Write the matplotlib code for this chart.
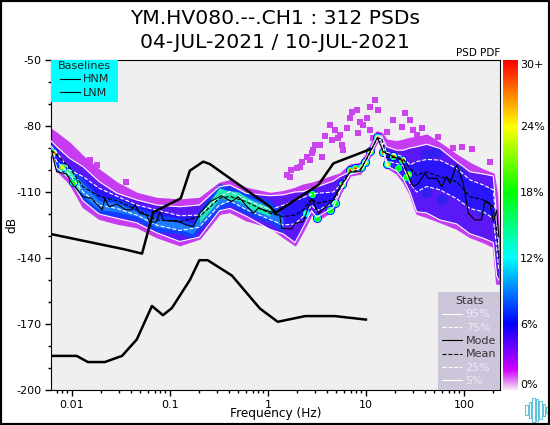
import matplotlib
matplotlib.use('Agg')
import numpy as np
import matplotlib.pyplot as plt
from matplotlib.colors import LinearSegmentedColormap
from matplotlib.patches import Rectangle
from matplotlib.ticker import FixedLocator, NullFormatter

plt.rcParams['axes.unicode_minus'] = False

# frequency grid the PDF envelopes were read on
freq = [0.0061, 0.007, 0.0095, 0.013, 0.019, 0.029, 0.046, 0.073, 0.126, 0.2, 0.32, 0.41, 0.6, 1.05,
        1.43, 1.89, 2.29, 2.79, 3.14, 4.65, 5.43, 6.87, 8.69, 10.2, 12.9, 14.4, 16.2, 20.6, 24, 28,
        32.9, 41.6, 56.9, 84, 115, 157, 199, 215, 226]
outer_hi = [-81.5, -83.3, -87.9, -93.9, -100, -106, -110.6, -112.9, -113.6, -112.9, -106, -104.8, -108.3, -110.6,
            -109.8, -108.3, -106.8, -106, -105.3, -102.7, -101.8, -97.7, -97, -92.4, -82.6, -83.3, -86.4, -87.1, -86.4, -85.6,
            -85.2, -84.1, -87.9, -93.2, -97, -100, -101.8, -110.6, -133.3]
outer_lo = [-90.9, -100, -106, -116.7, -122, -124.2, -125.8, -130.3, -134, -131, -119.7, -118.9, -122.7, -125.8,
            -130.3, -134, -127.3, -119.7, -122.7, -118.2, -110.6, -102.3, -101.5, -96.2, -87.1, -86.4, -98.5, -101.5, -105.3, -110.6,
            -119.7, -121.2, -123.5, -126.5, -130.3, -132.6, -134.8, -151.5, -151.5]
p95 = [-86.7, -89.4, -94.7, -98.5, -105.3, -110.6, -113.6, -115.9, -116.7, -115.9, -107.6, -106.8, -110.6, -111.7,
       -111.3, -110, -109.8, -108.5, -107.7, -105, -103, -100.8, -99.2, -94, -84.5, -84.5, -89.4, -91, -91, -90,
       -89.4, -88.3, -90.2, -96.2, -100.8, -101.8, -102.7, -121, -136]
p75 = [-89, -92, -100, -103, -108.3, -112, -115.9, -118.2, -120.8, -120.5, -112.1, -109.8, -113.6, -118,
       -116, -114, -112.5, -111, -110.6, -110, -107, -101, -99.5, -95, -85.5, -85, -92, -93, -94, -97.7,
       -96.2, -95.2, -95.5, -99.2, -104.5, -106.8, -109, -126, -138]
mean = [-91, -93, -99, -107.6, -112, -114, -118, -122.7, -123.5, -121.2, -112.9, -112, -114.4, -119.7,
        -121.2, -120.5, -118.2, -112.9, -115.2, -113.6, -107, -101, -99.8, -95, -86, -85.5, -94, -94.5, -95, -99.2,
        -102.3, -100.8, -103, -105.3, -112.1, -113.6, -116.7, -127, -140]
p25 = [-90, -96, -102, -110, -116, -117.5, -120.5, -125, -127.5, -126, -116, -114, -118, -122.5,
       -125, -124.5, -121, -116, -118.5, -115, -109, -102, -100.5, -95.8, -86.5, -85.8, -96, -97, -98, -106,
       -110, -107.5, -109, -113, -117.5, -119, -122, -135, -145]
p5 = [-90.4, -99, -104, -114, -120, -122, -124, -128.5, -132.5, -130.5, -118.5, -117.5, -121, -127,
      -129, -133, -126, -118.5, -121.5, -117, -110, -102, -101, -96, -87, -86.2, -98, -100.5, -104, -110,
      -119, -119.5, -122.7, -124.5, -129, -131, -133, -148, -150]

# brighter ridge of the PDF
ridge_freq = [0.0062, 0.007, 0.0095, 0.013, 0.019, 0.029, 0.046, 0.073, 0.126, 0.17, 0.2, 0.32, 0.41, 0.6, 1.05, 1.43]
ridge_hi = [-88, -96, -98, -104, -112, -113, -117, -120, -122, -124, -118, -106, -108, -110, -114, -120]
ridge_lo = [-92, -100, -104, -114, -120, -121, -123, -128, -129, -131, -127, -118, -116, -120, -124, -128]
green_l_freq = [0.0078, 0.0095, 0.012]
green_l_hi = [-97, -100, -105]
green_l_lo = [-100, -103, -110]
green_r_freq = [0.2, 0.25, 0.32, 0.36, 0.5, 0.7, 1.05]
green_r_hi = [-120, -115, -108, -109, -110, -114, -117]
green_r_lo = [-124, -119, -113, -113, -114, -118, -121]

mode_freq = [0.0062, 0.007, 0.0088, 0.0103, 0.013, 0.0159, 0.0204, 0.0217, 0.0239, 0.029, 0.0348, 0.0407, 0.044,
             0.0494, 0.0578, 0.0625, 0.0731, 0.0791, 0.0869, 0.117, 0.148, 0.173, 0.202, 0.256, 0.336, 0.426, 0.498,
             0.708, 0.796, 1.05, 1.32, 1.38, 1.75, 1.89, 2.29, 2.79, 3.27, 4.65, 5.65, 6.87, 8.69, 11, 13.1, 15, 19,
             23.1, 30.4, 34.2, 40, 43.2, 52.6, 59.2, 66.5, 72, 84.2, 98.4, 111, 129, 151, 164, 184, 199, 215, 226]
mode_db = [-90.9, -100.8, -101.8, -106.8, -112.1, -112.9, -118.2, -112.9, -116.7, -115.5, -117.9, -118.2, -115.9,
           -119.7, -120.5, -123.9, -123.5, -118.9, -123, -123, -125, -125.8, -119.7, -114.4, -111.7, -114.4, -112.1,
           -119.7, -117.4, -118.9, -120.5, -126.5, -126.8, -124.2, -123.5, -112.9, -119.7, -113.6, -106.8, -100.8, -100.8,
           -91.7, -85.2, -91.7, -93.9, -95.5, -107.6, -106.1, -101.5, -103.8, -103.8, -107.6, -103, -106.1, -97.7, -106.1,
           -119.7, -122.7, -122.7, -113.9, -115.2, -123.5, -118.2, -130.3]

hnm_freq = [0.0061, 0.0339, 0.052, 0.0676, 0.129, 0.16, 0.219, 0.256, 1.05, 1.2, 3.27, 4.65, 11]
hnm_db = [-129.1, -136, -138, -119.2, -112.9, -100.3, -96.2, -97.3, -116.7, -119.4, -106.8, -97, -90.6]
lnm_freq = [0.0061, 0.0112, 0.0146, 0.0217, 0.0325, 0.046, 0.0656, 0.085, 0.105, 0.16, 0.2, 0.243, 0.43, 0.83, 1.26, 2.4, 4.8, 10]
lnm_db = [-184.5, -184.5, -187.3, -187.3, -184.5, -177, -161.8, -166, -162.7, -150, -141, -141, -148, -163, -169, -166.4, -166.4, -168]

# isolated low probability cells above the main band
blob_freq = [1.55, 1.74, 1.96, 1.68, 2.21, 2.48, 2.79, 3.02, 3.39, 2.68, 3.53, 3.82, 4.29, 4.83, 5.43, 4.46, 6.35,
             7.14, 8.03, 6.87, 8.69, 10.2, 11, 12.4, 13.4, 9.39, 11, 11.9, 5.65, 5.87, 19, 25, 28.1, 23.1, 30.4, 37,
             32.9, 16.3, 54.7, 77.8, 94.6, 120, 184, 2.12, 2.9, 8.35, 5.22, 0.0361, 0.0153, 0.0179]
blob_db = [-102.3, -100, -99.2, -103, -96.2, -93.9, -92.4, -88.6, -88.6, -95.5, -93.9, -84.5, -79.5, -81.8, -84.1, -86.4, -81.1,
           -73.5, -72.7, -76.5, -78, -76.5, -71.2, -68.2, -72.7, -79.5, -81.8, -85.6, -88.6, -90.9, -77.3, -74.2, -77.3, -80.3, -81.8, -81.1,
           -84.1, -82.6, -84.8, -90.2, -89.4, -90.6, -96.2, -98.5, -90.9, -83.3, -85.6, -105.3, -95.5, -97.7]

# darker blue patches in the broad part above 30 Hz
patch_freq = [41, 52, 75, 108, 41, 60, 30, 90, 150]
patch_db = [-93, -92, -104, -110, -110, -113, -101, -100, -118]

# high probability spots, level is the peak percentage / 30
hot_freq = [0.00635, 0.00785, 0.0103, 2.79, 3.14, 4.29, 4.83, 2.42, 5.65, 6.87, 7.72, 8.82, 9.78, 11, 13.1, 15, 16.3, 18.7, 21, 23.1, 25.6, 27]
hot_db = [-91.7, -98.8, -105.3, -110.9, -122, -118.2, -114.8, -119.4, -106.5, -100, -99.2, -98.8, -96.2, -91.2, -85.2, -91.7, -97.3, -93.6, -99.2, -95.5, -103, -101.8]
hot_level = [1, 0.8, 0.6, 0.6, 0.6, 0.6, 0.6, 0.4, 1, 1, 1, 1, 0.8, 0.9, 1, 1, 0.8, 1, 0.6, 1, 0.6, 0.8]

xticks = [0.01, 0.1, 1, 10, 100]
xtick_labels = ['0.01', '0.1', '1', '10', '100']
yticks = [-50, -80, -110, -140, -170, -200]
cbar_labels = ['0%', '6%', '12%', '18%', '24%', '30+']
logo_x = [525, 528.5, 532, 535.5, 539, 542.5, 545.5]
logo_h = [0.012, 0.018, 0.028, 0.026, 0.022, 0.015, 0.008]

pdf_cmap = LinearSegmentedColormap.from_list('pdf', [(0, '#f4e6f6'), (0.03, '#e070f4'), (0.06, '#d000ff'),
                                                      (0.2, '#0000ff'), (0.4, '#00ffff'), (0.6, '#00ff00'),
                                                      (0.8, '#ffff00'), (1, '#ff0000')])

fig = plt.figure(figsize=(5.5, 4.25), dpi=100)
W, H = 550.0, 425.0
ax = fig.add_axes([51 / W, 1 - 390 / H, 449 / W, 330 / H])
ax.set_facecolor('#efefef')
ax.set_xscale('log')
ax.set_xlim(0.00613, 233)
ax.set_ylim(-200, -50)

# PDF body
ax.scatter(blob_freq, blob_db, s=20, color='#cc44ee', marker='s', linewidths=0, zorder=1)
ax.fill_between(freq, outer_lo, outer_hi, color='#c63cf0', lw=1.5, zorder=1)
ax.fill_between(freq, p5, p95, color='#5a18f6', lw=0, zorder=2)
ax.fill_between(freq, p25, p75, color='#2a14fb', lw=0, zorder=3)
ax.scatter(patch_freq, patch_db, s=70, color='#2222ee', linewidths=0, alpha=0.7, zorder=3)
ax.fill_between(ridge_freq, ridge_lo, ridge_hi, color='#1040ff', lw=0, zorder=4)
ax.fill_between(ridge_freq, np.array(ridge_lo) + 2, np.array(ridge_hi) - 2, color='#30d8ff', lw=0, zorder=4, alpha=0.4)
ax.fill_between(green_l_freq, green_l_lo, green_l_hi, color='#30f0a0', lw=0, zorder=5)
ax.fill_between(green_r_freq, green_r_lo, green_r_hi, color='#20e8b0', lw=0, zorder=5)

# hot spots, biggest (coolest) layer first
for frac, size in [(0.2, 42), (0.4, 28), (0.6, 17), (0.8, 9), (1.0, 3.5)]:
    pts = [(f, d) for f, d, lv in zip(hot_freq, hot_db, hot_level) if lv >= frac - 0.001]
    ax.scatter([p[0] for p in pts], [p[1] for p in pts], s=size, color=pdf_cmap(frac), linewidths=0, zorder=6 + frac)

# stats lines
ax.plot(freq, p95, color='white', lw=0.8, zorder=8)
ax.plot(freq, p5, color='white', lw=0.8, zorder=8)
ax.plot(freq, p75, color='white', lw=0.8, ls='--', zorder=8)
ax.plot(freq, p25, color='white', lw=0.8, ls='--', zorder=8)
ax.plot(mode_freq, mode_db, color='black', lw=0.8, zorder=9)
ax.plot(freq, mean, color='black', lw=0.8, ls='--', zorder=9)
ax.plot(hnm_freq, hnm_db, color='black', lw=1.8, zorder=10)
ax.plot(lnm_freq, lnm_db, color='black', lw=1.8, zorder=10)

ax.set_xticks(xticks)
ax.set_xticklabels(xtick_labels)
ax.set_yticks(yticks)
ax.yaxis.set_minor_locator(FixedLocator(np.arange(-200, -49, 10)))
ax.yaxis.set_minor_formatter(NullFormatter())
ax.xaxis.set_minor_formatter(NullFormatter())
ax.tick_params(labelsize=8, pad=3, length=4, width=1)
ax.tick_params(which='minor', length=2.5, width=1)
ax.set_xlabel('Frequency (Hz)', fontsize=8.7, va='center')
ax.set_ylabel('dB', fontsize=8.7, va='center')
ax.xaxis.set_label_coords(0.5, -24 / 330)
ax.yaxis.set_label_coords(-39 / 449, 0.5)

# legends
ax.add_patch(Rectangle((0, 1 - 42 / 330), 67 / 449, 42 / 330, transform=ax.transAxes, color='#00ffff', lw=0, zorder=19))
base_handles = [plt.Line2D([], [], color='black', lw=0.8), plt.Line2D([], [], color='black', lw=0.8)]
leg1 = ax.legend(base_handles, ['HNM', 'LNM'], title='Baselines', loc='upper center', bbox_to_anchor=(33.5 / 449, 1),
                 borderaxespad=0, fontsize=8, title_fontsize=8, frameon=False, handlelength=1.8,
                 labelspacing=0.3, borderpad=0.1, handletextpad=0.3, labelcolor='#222222')
leg1.get_title().set_color('#222222')
leg1.set_zorder(20)
ax.add_artist(leg1)
stat_handles = [plt.Line2D([], [], color='white', lw=0.8), plt.Line2D([], [], color='white', lw=0.8, ls='--'),
                plt.Line2D([], [], color='black', lw=0.8), plt.Line2D([], [], color='black', lw=0.8, ls='--'),
                plt.Line2D([], [], color='white', lw=0.8, ls='--'), plt.Line2D([], [], color='white', lw=0.8)]
leg2 = ax.legend(stat_handles, ['95%', '75%', 'Mode', 'Mean', '25%', '5%'], title='Stats', loc='lower right',
                 bbox_to_anchor=(1, 0), borderaxespad=0, fontsize=8, title_fontsize=8, fancybox=False, frameon=True,
                 facecolor='#cdc6da', edgecolor='none', framealpha=1, handlelength=1.8, labelspacing=0.3,
                 borderpad=0.35, handletextpad=0.3,
                 labelcolor=['#efe9f5', '#efe9f5', '#333333', '#333333', '#efe9f5', '#efe9f5'])
leg2.get_title().set_color('#333333')
leg2.set_zorder(20)

fig.text(275 / W, 1 - 18 / H, 'YM.HV080.--.CH1 : 312 PSDs', fontsize=14.6, ha='center', va='center')
fig.text(275 / W, 1 - 42 / H, '04-JUL-2021 / 10-JUL-2021', fontsize=14.6, ha='center', va='center')
fig.text(500 / W, 1 - 53 / H, 'PSD PDF', fontsize=7.5, ha='right', va='center')

# colorbar
cax = fig.add_axes([503 / W, 1 - 390 / H, 15 / W, 330 / H])
cax.imshow(np.linspace(1, 0, 256).reshape(-1, 1), aspect='auto', cmap=pdf_cmap, extent=[0, 1, 0, 30], vmin=0, vmax=1)
cax.set_xticks([])
cax.yaxis.tick_right()
cax.set_yticks([0, 6, 12, 18, 24, 30])
cax.set_yticklabels(cbar_labels, fontsize=8)
cax.tick_params(length=0, pad=1.5)
for s in cax.spines.values():
    s.set_visible(False)
labels = cax.get_yticklabels()
labels[0].set_va('bottom')
labels[-1].set_va('top')

# little waveform logo, hollow bars
for x, h in zip(logo_x, logo_h):
    fig.add_artist(Rectangle((x / W, 1 - 410 / H - h), 2.5 / W, 2 * h, transform=fig.transFigure, fill=False,
                             edgecolor='#5fc4dc', lw=0.8))

# outer frame
fig.add_artist(Rectangle((0, 0), 1, 1, transform=fig.transFigure, fill=False, edgecolor='black', lw=3))

fig.savefig('out.png', dpi=100)
